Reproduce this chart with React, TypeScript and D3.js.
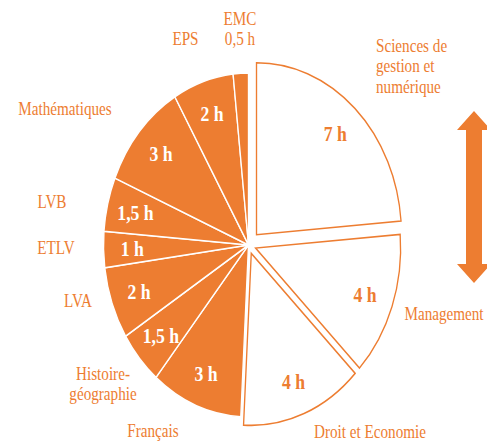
import React from 'react'
import * as d3 from 'd3'

// Weekly hours, clockwise from 12 o'clock
const SUBJECTS = [
  'Sciences de gestion et numérique',
  'Management',
  'Droit et Economie',
  'Français',
  'Histoire-géographie',
  'LVA',
  'ETLV',
  'LVB',
  'Mathématiques',
  'EPS',
  'EMC',
]
const HOURS = [7, 4, 4, 3, 1.5, 2, 1, 1.5, 3, 2, 0.5]
const HOUR_LABELS = ['7 h', '4 h', '4 h', '3 h', '1,5 h', '2 h', '1 h', '1,5 h', '3 h', '2 h', '0,5 h']
// the specialty subjects, drawn hollow and pulled out of the pie
const SPECIALTY = ['Sciences de gestion et numérique', 'Management', 'Droit et Economie']

const ORANGE = '#ED7D31'
const WIDTH = 487
const HEIGHT = 444
const CX = 248.5
const CY = 245
const RADIUS = 172
const SQUASH = 0.843 // the original picture is narrower than tall
const FONT = '"Liberation Serif", "DejaVu Serif", serif'

const EXPLODE: Record<string, number> = {
  'Sciences de gestion et numérique': 14,
  Management: 9,
  'Droit et Economie': 9,
}

// outside labels: lines, anchor, position in picture space
const OUTER_LABELS: { lines: string[]; x: number; y: number; anchor: string }[] = [
  { lines: ['Sciences de', 'gestion et', 'numérique'], x: 376, y: 52, anchor: 'start' },
  { lines: ['Management'], x: 444, y: 320, anchor: 'middle' },
  { lines: ['Droit et Economie'], x: 370, y: 438, anchor: 'middle' },
  { lines: ['Français'], x: 153, y: 437, anchor: 'middle' },
  { lines: ['Histoire-', 'géographie'], x: 103, y: 380, anchor: 'middle' },
  { lines: ['LVA'], x: 78, y: 307, anchor: 'middle' },
  { lines: ['ETLV'], x: 56, y: 254, anchor: 'middle' },
  { lines: ['LVB'], x: 52, y: 208, anchor: 'middle' },
  { lines: ['Mathématiques'], x: 65, y: 115, anchor: 'middle' },
  { lines: ['EPS'], x: 185.5, y: 45, anchor: 'middle' },
  { lines: ['EMC', '0,5 h'], x: 240, y: 25, anchor: 'middle' },
]

export default function App() {
  const rows = SUBJECTS.map((s, i) => ({ subject: s, hours: HOURS[i], label: HOUR_LABELS[i] }))
  const pie = d3
    .pie<(typeof rows)[number]>()
    .sort(null)
    .value(d => d.hours)
    .startAngle(0)
    .endAngle(2 * Math.PI)
  const arcs = pie(rows)
  const arc = d3.arc<d3.PieArcDatum<(typeof rows)[number]>>().innerRadius(0).outerRadius(RADIUS)
  const labelArc = d3.arc<d3.PieArcDatum<(typeof rows)[number]>>().innerRadius(138).outerRadius(138)

  const shift = (d: d3.PieArcDatum<(typeof rows)[number]>) => {
    const e = EXPLODE[d.data.subject] || 0
    const mid = (d.startAngle + d.endAngle) / 2
    return [Math.sin(mid) * e, -Math.cos(mid) * e]
  }

  // double-headed arrow on the right
  const ay = d3.scaleLinear().domain([0, 1]).range([111, 283])
  const ax = 474
  const arrow = d3.path()
  arrow.moveTo(ax, ay(0))
  arrow.lineTo(ax + 17, ay(0) + 19)
  arrow.lineTo(ax + 8, ay(0) + 19)
  arrow.lineTo(ax + 8, ay(1) - 19)
  arrow.lineTo(ax + 17, ay(1) - 19)
  arrow.lineTo(ax, ay(1))
  arrow.lineTo(ax - 17, ay(1) - 19)
  arrow.lineTo(ax - 8, ay(1) - 19)
  arrow.lineTo(ax - 8, ay(0) + 19)
  arrow.lineTo(ax - 17, ay(0) + 19)
  arrow.closePath()

  return (
    <svg
      width={WIDTH}
      height={HEIGHT}
      style={{ position: 'absolute', left: 0, top: 0, background: '#fff' }}
      fontFamily={FONT}
    >
      <g transform={`translate(${CX},${CY}) scale(${SQUASH},1)`}>
        {/* filled slices first, the hollow ones on top */}
        {arcs
          .filter(d => !SPECIALTY.includes(d.data.subject))
          .map(d => (
            <path key={d.data.subject} d={arc(d) || ''} fill={ORANGE} stroke="#fff" strokeWidth={1.6} />
          ))}
        {arcs
          .filter(d => SPECIALTY.includes(d.data.subject))
          .map(d => {
            const [dx, dy] = shift(d)
            return (
              <path
                key={d.data.subject}
                d={arc(d) || ''}
                transform={`translate(${dx},${dy})`}
                fill="#fff"
                stroke={ORANGE}
                strokeWidth={1.6}
                strokeLinejoin="miter"
              />
            )
          })}
        {arcs
          .filter(d => d.data.subject !== 'EMC')
          .map(d => {
            const [dx, dy] = shift(d)
            const [lx, ly] = labelArc.centroid(d)
            const hollow = SPECIALTY.includes(d.data.subject)
            return (
              <text
                key={d.data.subject}
                x={lx + dx}
                y={ly + dy}
                dy="0.35em"
                textAnchor="middle"
                fontSize={21}
                fontWeight="bold"
                fill={hollow ? ORANGE : '#fff'}
              >
                {d.data.label}
              </text>
            )
          })}
      </g>

      {OUTER_LABELS.map(l => (
        <text
          key={l.lines.join(' ')}
          transform={`translate(${l.x},${l.y}) scale(${SQUASH},1)`}
          textAnchor={l.anchor}
          fontSize={18}
          fill={ORANGE}
        >
          {l.lines.map((line, i) => (
            <tspan key={line} x={0} dy={i === 0 ? 0 : 20.5}>
              {line}
            </tspan>
          ))}
        </text>
      ))}

      <path d={arrow.toString()} fill={ORANGE} />
    </svg>
  )
}
